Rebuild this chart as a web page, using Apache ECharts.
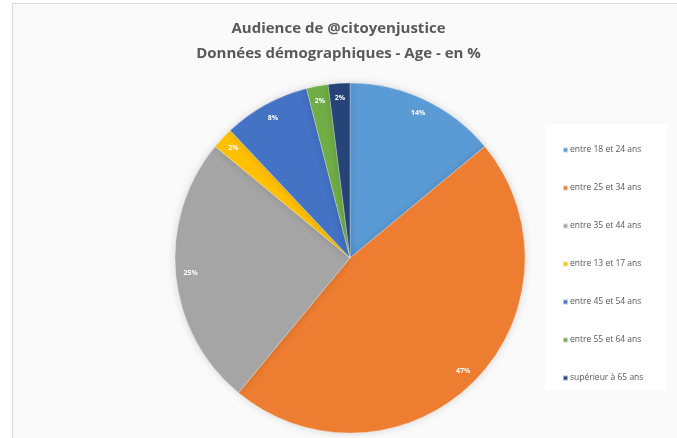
<!DOCTYPE html>
<html>
<head>
<meta charset="utf-8">
<script src="https://cdn.jsdelivr.net/npm/echarts@6/dist/echarts.min.js"></script>
<style>
  html, body { margin: 0; padding: 0; background: #fff; }
  #chart { width: 677px; height: 438px; }
</style>
</head>
<body>
<div id="chart"></div>
<script>
// age groups, in the order the slices run clockwise from 12 o'clock
const categories = [
  'entre 18 et 24 ans',
  'entre 25 et 34 ans',
  'entre 35 et 44 ans',
  'entre 13 et 17 ans',
  'entre 45 et 54 ans',
  'entre 55 et 64 ans',
  'supérieur à 65 ans'
];
const values = [14, 47, 25, 2, 8, 2, 2];
const colors = ['#5b9bd5', '#ed7d31', '#a5a5a5', '#ffc000', '#4472c4', '#70ad47', '#264478'];

const titleLines = ['Audience de @citoyenjustice', 'Données démographiques - Age - en %'];

const chart = echarts.init(document.getElementById('chart'));

const pieData = categories.map((name, i) => ({ name, value: values[i] }));
const center = [350, 258];

const option = {
  backgroundColor: '#fafafa',
  color: colors,
  animation: false,
  title: {
    text: titleLines.join('\n'),
    left: 'center',
    top: 11,
    textStyle: {
      fontFamily: 'Open Sans',
      fontSize: 15,
      fontWeight: 'bold',
      color: '#595959',
      lineHeight: 25
    }
  },
  legend: {
    orient: 'vertical',
    left: 557,
    top: 140,
    itemWidth: 5,
    itemHeight: 5,
    itemGap: 28,
    icon: 'rect',
    data: categories,
    textStyle: {
      fontFamily: 'Open Sans',
      fontSize: 8.5,
      lineHeight: 10,
      color: '#595959',
      padding: [0, 0, 0, -3]
    }
  },
  graphic: [
    // white strip on the left and top, with thin border lines
    { type: 'rect', shape: { x: 0, y: 0, width: 12, height: 438 }, style: { fill: '#fff' }, silent: true },
    { type: 'rect', shape: { x: 0, y: 0, width: 677, height: 3 }, style: { fill: '#fff' }, silent: true },
    { type: 'line', shape: { x1: 12.5, y1: 3, x2: 12.5, y2: 438 }, style: { stroke: '#d9d9d9', lineWidth: 1 }, silent: true },
    { type: 'line', shape: { x1: 12, y1: 3.5, x2: 677, y2: 3.5 }, style: { stroke: '#d9d9d9', lineWidth: 1 }, silent: true },
    // legend panel
    { type: 'rect', z: -1, shape: { x: 545, y: 124, width: 122, height: 266 }, style: { fill: '#ffffff' }, silent: true }
  ],
  series: [
    {
      type: 'pie',
      center: center,
      radius: [0, 175],
      startAngle: 90,
      clockwise: true,
      data: pieData,
      label: { show: false },
      labelLine: { show: false },
      itemStyle: {
        borderColor: 'rgba(255,255,255,0.6)',
        borderWidth: 0.5,
        shadowBlur: 8,
        shadowColor: 'rgba(0,0,0,0.15)'
      },
      emphasis: { disabled: true }
    },
    {
      // transparent ring that carries the percentage labels near the rim
      type: 'pie',
      center: center,
      radius: [134, 180],
      startAngle: 90,
      clockwise: true,
      silent: true,
      data: pieData,
      itemStyle: { color: 'rgba(0,0,0,0)' },
      label: {
        show: true,
        position: 'inside',
        formatter: '{c}%',
        fontFamily: 'Open Sans',
        fontSize: 7,
        fontWeight: 'bold',
        color: '#ffffff'
      },
      labelLine: { show: false },
      emphasis: { disabled: true }
    }
  ]
};

chart.setOption(option);
</script>
</body>
</html>
